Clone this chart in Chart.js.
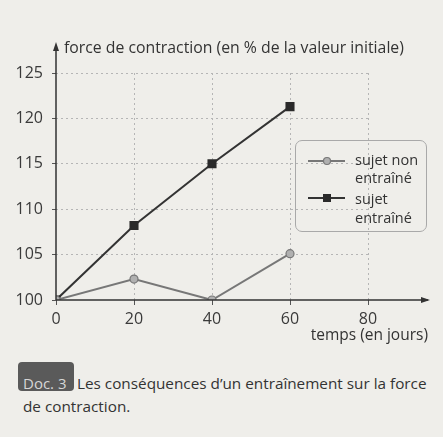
<!DOCTYPE html>
<html>
<head>
<meta charset="utf-8">
<script src="https://cdn.jsdelivr.net/npm/chart.js@4.4.0/dist/chart.umd.min.js"></script>
<style>
  body { margin: 0; background: #efeeea; font-family: "Open Sans", sans-serif; color: #333; }
  #wrap { position: relative; width: 443px; height: 437px; overflow: hidden; }
  #chart { position: absolute; left: 0; top: 0; }
  .txt { position: absolute; white-space: nowrap; }
  #legend { position: absolute; left: 295px; top: 140px; width: 132px; height: 92px;
            border: 1.5px solid #a9a9a9; border-radius: 7px; box-sizing: border-box; }
  #badge { position: absolute; left: 18px; top: 362px; width: 56px; height: 29px; background: #5a5a5a;
           border-radius: 4px; box-sizing: border-box; }
</style>
</head>
<body>
<div id="wrap">
  <canvas id="chart" width="443" height="350"></canvas>
  <div class="txt" style="left:64px; top:36px; font-size:15.8px;">force de contraction (en % de la valeur initiale)</div>
  <div class="txt" style="right:15px; top:323px; font-size:15.5px;">temps (en jours)</div>
  <div id="legend"></div>
  <div class="txt" style="left:355px; top:151px; line-height:18px; font-size:14.5px;">sujet non<br>entraîné</div>
  <div class="txt" style="left:355px; top:189px; line-height:19px; font-size:14.5px;">sujet<br>entraîné</div>
  <div id="badge"></div>
  <div class="txt" style="left:23px; top:372px; line-height:23px; font-size:15px; color:#d6d6d6;">Doc. 3</div>
  <div class="txt" style="left:77px; top:372px; line-height:23px; font-size:15.3px;">Les conséquences d’un entraînement sur la force</div>
  <div class="txt" style="left:23px; top:395px; line-height:23px; font-size:15.3px;">de contraction.</div>
</div>
<script>
// données
var jours = [0, 20, 40, 60];
var nonEntraine = [100, 102.3, 100, 105.1];
var entraine = [100, 108.2, 115, 121.3];
var xTicks = [0, 20, 40, 60, 80];
var yTicks = [100, 105, 110, 115, 120, 125];

function pts(vals) {
    return jours.map(function(j, i) { return { x: j, y: vals[i] }; });
}

// axes with arrows + legend samples
var axesPlugin = {
    id: 'axes',
    afterDraw: function(chart) {
        var ctx = chart.ctx;
        var x0 = chart.scales.x.getPixelForValue(0);
        var y0 = chart.scales.y.getPixelForValue(100);
        ctx.save();
        ctx.strokeStyle = '#333';
        ctx.fillStyle = '#333';
        ctx.lineWidth = 1.5;
        ctx.beginPath();
        ctx.moveTo(x0, y0);
        ctx.lineTo(428, y0);
        ctx.moveTo(x0, y0);
        ctx.lineTo(x0, 46);
        ctx.stroke();
        ctx.beginPath();
        ctx.moveTo(430, y0); ctx.lineTo(421, y0 - 3); ctx.lineTo(421, y0 + 3); ctx.closePath();
        ctx.moveTo(x0, 42); ctx.lineTo(x0 - 3, 51); ctx.lineTo(x0 + 3, 51); ctx.closePath();
        ctx.fill();

        // legend samples
        ctx.lineWidth = 2;
        ctx.strokeStyle = '#777';
        ctx.beginPath(); ctx.moveTo(308, 161); ctx.lineTo(345, 161); ctx.stroke();
        ctx.fillStyle = '#b0b0b0';
        ctx.lineWidth = 1.2;
        ctx.beginPath(); ctx.arc(327, 161, 3.5, 0, Math.PI * 2); ctx.fill(); ctx.stroke();
        ctx.lineWidth = 2;
        ctx.strokeStyle = '#333';
        ctx.beginPath(); ctx.moveTo(308, 198); ctx.lineTo(345, 198); ctx.stroke();
        ctx.fillStyle = '#2a2a2a';
        ctx.fillRect(323, 194, 8, 8);
        ctx.restore();
    }
};

var gridColor = function(zero) {
    return function(c) { return c.tick && c.tick.value === zero ? 'rgba(0,0,0,0)' : '#b5b5b5'; };
};

new Chart(document.getElementById('chart'), {
    type: 'line',
    data: {
        datasets: [
            {
                label: 'sujet non entraîné',
                data: pts(nonEntraine),
                borderColor: '#777',
                borderWidth: 2,
                pointStyle: 'circle',
                pointRadius: 4,
                pointBackgroundColor: '#b0b0b0',
                pointBorderColor: '#777',
                pointBorderWidth: 1.2,
                tension: 0
            },
            {
                label: 'sujet entraîné',
                data: pts(entraine),
                borderColor: '#333',
                borderWidth: 2,
                pointStyle: 'rect',
                pointRadius: 5,
                pointBackgroundColor: '#2a2a2a',
                pointBorderColor: '#2a2a2a',
                tension: 0
            }
        ]
    },
    options: {
        responsive: false,
        animation: false,
        layout: { padding: { left: 0, right: 75, top: 73, bottom: 0 } },
        plugins: { legend: { display: false }, tooltip: { enabled: false } },
        scales: {
            x: {
                type: 'linear', min: 0, max: 80,
                afterBuildTicks: function(s) { s.ticks = xTicks.map(function(v) { return { value: v }; }); },
                afterFit: function(s) { s.height = 50; },
                border: { display: false, dash: [2, 3] },
                grid: { color: gridColor(0), tickLength: 5, tickColor: '#555', tickBorderDash: [] },
                ticks: { color: '#3a3a3a', padding: 5, font: { family: 'Open Sans', size: 16 } }
            },
            y: {
                min: 100, max: 125,
                afterBuildTicks: function(s) { s.ticks = yTicks.map(function(v) { return { value: v }; }); },
                afterFit: function(s) { s.width = 56; },
                border: { display: false, dash: [2, 3] },
                grid: { color: gridColor(100), tickLength: 4, tickColor: '#555', tickBorderDash: [] },
                ticks: { color: '#3a3a3a', padding: 9, font: { family: 'Open Sans', size: 16 } }
            }
        }
    },
    plugins: [axesPlugin]
});
</script>
</body>
</html>
